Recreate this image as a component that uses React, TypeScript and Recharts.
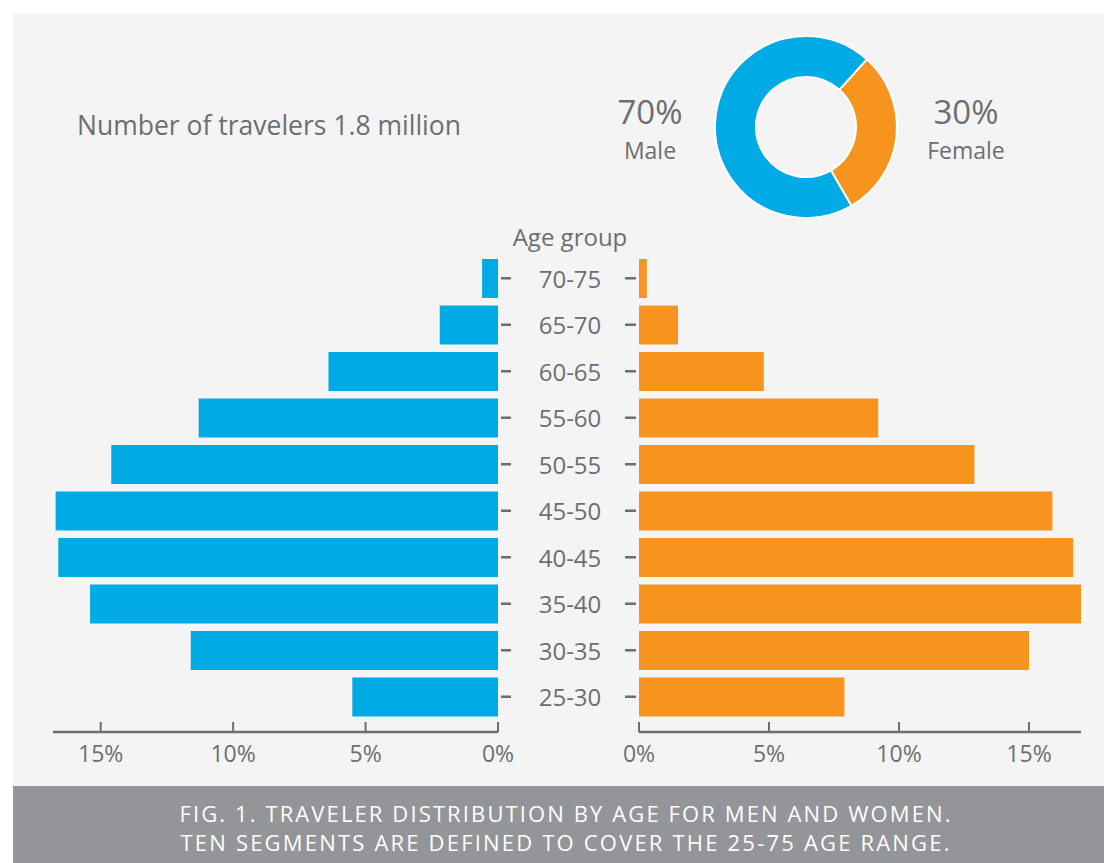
import React from 'react';
import { BarChart, Bar, XAxis, YAxis, PieChart, Pie, Cell } from 'recharts';

const ageGroups = ['70-75', '65-70', '60-65', '55-60', '50-55', '45-50', '40-45', '35-40', '30-35', '25-30'];
const maleShare = [0.6, 2.2, 6.4, 11.3, 14.6, 16.7, 16.6, 15.4, 11.6, 5.5];
const femaleShare = [0.3, 1.5, 4.8, 9.2, 12.9, 15.9, 16.7, 17.0, 15.0, 7.9];
const percentTicks = [0, 5, 10, 15];
const genderLabels = ['Male', 'Female'];
const genderShares = [70, 30];

const BLUE = '#00aae4';
const ORANGE = '#f7941d';
const GRAY = '#6d6e71';
const FONT = "'Open Sans', sans-serif";

const maleData = ageGroups.map((age, i) => ({ age, value: maleShare[i] }));
const femaleData = ageGroups.map((age, i) => ({ age, value: femaleShare[i] }));
const genderData = genderLabels.map((name, i) => ({ name, value: genderShares[i] }));

const XTick = (props: any) => {
  const { x, y, payload } = props;
  return (
    <g>
      <line x1={x} x2={x} y1={y - 10} y2={y} stroke={GRAY} strokeWidth={2} />
      <text x={x} y={y + 30} textAnchor="middle" fill={GRAY} fontSize={23} fontFamily={FONT}>
        {payload.value}%
      </text>
    </g>
  );
};

const LeftYTick = (props: any) => {
  const { x, y, payload } = props;
  return (
    <g>
      <line x1={x + 3} x2={x + 13} y1={y} y2={y} stroke={GRAY} strokeWidth={2.5} />
      <text x={x + 72} y={y} textAnchor="middle" dominantBaseline="central" fill={GRAY} fontSize={24} fontFamily={FONT}>
        {payload.value}
      </text>
    </g>
  );
};

const RightYTick = (props: any) => {
  const { x, y } = props;
  return <line x1={x - 14} x2={x - 3} y1={y} y2={y} stroke={GRAY} strokeWidth={2.5} />;
};

export default function App() {
  return (
    <div style={{ position: 'absolute', left: 0, top: 0, width: 1104, height: 863, background: '#ffffff', overflow: 'hidden', fontFamily: FONT }}>
      <div style={{ position: 'absolute', left: 13, top: 13, width: 1091, height: 773, background: '#f4f4f4' }} />
      <div style={{ position: 'absolute', left: 13, top: 786, width: 1091, height: 77, background: '#939598' }} />

      <div style={{ position: 'absolute', left: 0, top: 0 }}>
        <BarChart width={640} height={790} data={maleData} layout="vertical" margin={{ top: 255, right: 0, left: 53, bottom: 0 }}>
          <XAxis
            type="number"
            dataKey="value"
            domain={[0, 16.8]}
            reversed
            ticks={percentTicks}
            interval={0}
            height={58}
            tickSize={0}
            tickMargin={0}
            tickLine={false}
            axisLine={{ stroke: GRAY, strokeWidth: 2.5 }}
            tick={(p: any) => <XTick {...p} />}
          />
          <YAxis
            type="category"
            dataKey="age"
            orientation="right"
            width={142}
            padding={{ top: 0, bottom: 12 }}
            interval={0}
            tickSize={0}
            tickMargin={0}
            tickLine={false}
            axisLine={false}
            tick={(p: any) => <LeftYTick {...p} />}
          />
          <Bar dataKey="value" fill={BLUE} barSize={39} isAnimationActive={false} />
        </BarChart>
      </div>

      <div style={{ position: 'absolute', left: 498, top: 0 }}>
        <BarChart width={606} height={790} data={femaleData} layout="vertical" margin={{ top: 255, right: 23, left: 0, bottom: 0 }}>
          <XAxis
            type="number"
            dataKey="value"
            domain={[0, 17]}
            ticks={percentTicks}
            interval={0}
            height={58}
            tickSize={0}
            tickMargin={0}
            tickLine={false}
            axisLine={{ stroke: GRAY, strokeWidth: 2.5 }}
            tick={(p: any) => <XTick {...p} />}
          />
          <YAxis
            type="category"
            dataKey="age"
            orientation="left"
            width={141}
            padding={{ top: 0, bottom: 12 }}
            interval={0}
            tickSize={0}
            tickMargin={0}
            tickLine={false}
            axisLine={false}
            tick={(p: any) => <RightYTick {...p} />}
          />
          <Bar dataKey="value" fill={ORANGE} barSize={39} isAnimationActive={false} />
        </BarChart>
      </div>

      <div style={{ position: 'absolute', left: 706, top: 27 }}>
        <PieChart width={200} height={200} margin={{ top: 0, right: 0, bottom: 0, left: 0 }}>
          <Pie
            data={genderData}
            dataKey="value"
            nameKey="name"
            cx={100}
            cy={100}
            innerRadius={50}
            outerRadius={91}
            startAngle={48}
            endAngle={408}
            stroke="#ffffff"
            strokeWidth={2}
            isAnimationActive={false}
          >
            {genderData.map((d, i) => (
              <Cell key={d.name} fill={i === 0 ? BLUE : ORANGE} />
            ))}
          </Pie>
        </PieChart>
      </div>

      <svg width={1104} height={863} style={{ position: 'absolute', left: 0, top: 0, pointerEvents: 'none' }}>
        <g fontFamily={FONT} fill={GRAY}>
          <text x={77} y={135} fontSize={26.5}>Number of travelers 1.8 million</text>
          <text x={650} y={124} fontSize={33} textAnchor="middle">{genderShares[0]}%</text>
          <text x={650} y={159} fontSize={23} textAnchor="middle">{genderLabels[0]}</text>
          <text x={966} y={124} fontSize={33} textAnchor="middle">{genderShares[1]}%</text>
          <text x={966} y={159} fontSize={23} textAnchor="middle">{genderLabels[1]}</text>
          <text x={570} y={246} fontSize={24} textAnchor="middle">Age group</text>
        </g>
        <g fontFamily={FONT} fill="#ffffff" fontSize={22}>
          <text x={565} y={822} textAnchor="middle" textLength={771} lengthAdjust="spacing">
            FIG. 1. TRAVELER DISTRIBUTION BY AGE FOR MEN AND WOMEN.
          </text>
          <text x={565} y={851} textAnchor="middle" textLength={769} lengthAdjust="spacing">
            TEN SEGMENTS ARE DEFINED TO COVER THE 25-75 AGE RANGE.
          </text>
        </g>
      </svg>
    </div>
  );
}
